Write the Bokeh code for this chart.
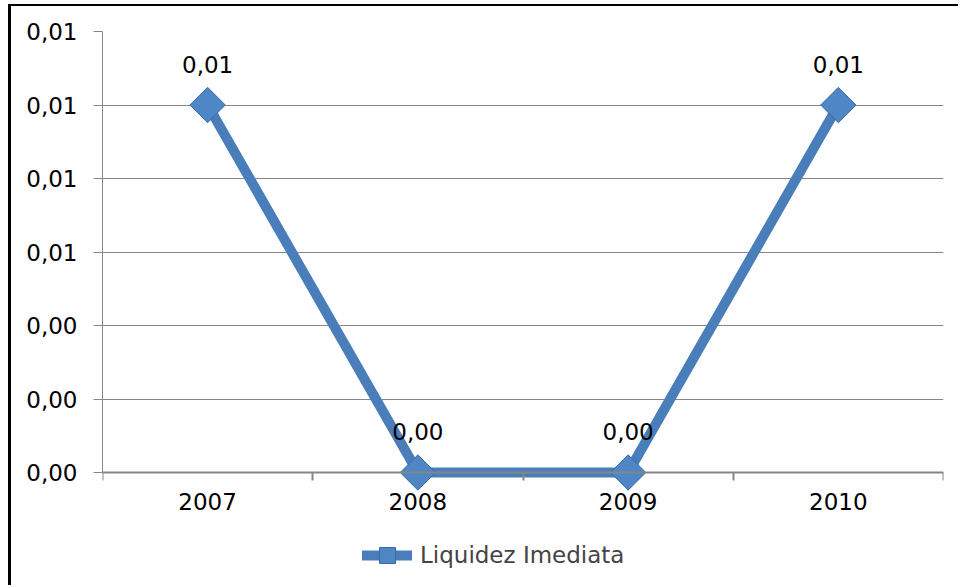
import math
from bokeh.plotting import figure
from bokeh.models import (Range1d, FixedTicker, CustomJSTickFormatter, Legend, LegendItem,
                          ColumnDataSource)
from bokeh.core.properties import value
from bokeh.embed import file_html
from bokeh.resources import INLINE

# ---- data ----
years = ["2007", "2008", "2009", "2010"]
liquidez = [0.010, 0.0, 0.0, 0.010]
y_ticks = [0.0, 0.002, 0.004, 0.006, 0.008, 0.010, 0.012]
series_name = "Liquidez Imediata"

FONT = "DejaVu Sans"
FS = "23px"
GRID = "#868686"
BLUE = "#4a7ebb"
MK_FILL = "#4f86c6"
MK_LINE = "#3a6aa5"

# layout: plot area 441 px tall for the value range, 115 px below it for labels + legend
PLOT_H, BELOW_H = 441, 115
y_lo = y_ticks[0] - (y_ticks[-1] - y_ticks[0]) * BELOW_H / PLOT_H

x_pos = [i + 0.5 for i in range(len(years))]
labels = [f"{v:.2f}".replace(".", ",") for v in liquidez]
src = ColumnDataSource(dict(x=x_pos, y=liquidez, lab=labels))

p = figure(width=950, height=581, output_backend="svg", toolbar_location=None,
           x_range=Range1d(0, len(years)), y_range=Range1d(y_lo, y_ticks[-1]),
           min_border_left=91, min_border_right=18, min_border_top=25, min_border_bottom=0)
p.margin = (4, 0, 0, 8)
p.styles = {"border-left": "3px solid black", "border-top": "2px solid black"}
p.outline_line_color = None
p.background_fill_color = "white"
p.border_fill_color = "white"

# y axis
p.yaxis.ticker = FixedTicker(ticks=y_ticks)
p.yaxis.bounds = (y_ticks[0], y_ticks[-1])
p.yaxis.formatter = CustomJSTickFormatter(code="return tick.toFixed(2).replace('.', ',');")
p.yaxis.axis_line_color = GRID
p.yaxis.major_tick_line_color = GRID
p.yaxis.major_tick_out = 9
p.yaxis.major_tick_in = 0
p.yaxis.minor_tick_line_color = None
p.yaxis.major_label_standoff = 16
p.yaxis.major_label_text_font = FONT
p.yaxis.major_label_text_font_size = FS
p.yaxis.major_label_text_color = "black"

# x axis: labels at category centres, tick marks at category boundaries
p.xaxis.fixed_location = y_ticks[0]
p.xaxis.ticker = FixedTicker(ticks=x_pos, minor_ticks=list(range(len(years) + 1)))
p.xaxis.formatter = CustomJSTickFormatter(args=dict(years=years),
                                          code="return years[Math.floor(tick)];")
p.xaxis.axis_line_color = GRID
p.xaxis.axis_line_width = 2
p.xaxis.major_tick_line_color = None
p.xaxis.major_tick_out = 0
p.xaxis.major_tick_in = 0
p.xaxis.minor_tick_line_color = GRID
p.xaxis.minor_tick_line_width = 2
p.xaxis.minor_tick_out = 8
p.xaxis.minor_tick_in = 0
p.xaxis.major_label_standoff = 12
p.xaxis.major_label_text_font = FONT
p.xaxis.major_label_text_font_size = FS
p.xaxis.major_label_text_color = "black"

p.xgrid.grid_line_color = None
p.ygrid.ticker = FixedTicker(ticks=y_ticks)
p.ygrid.grid_line_color = GRID
p.ygrid.grid_line_width = 1

ln = p.line("x", "y", source=src, line_width=10, line_color=BLUE, line_cap="round")
mk = p.scatter("x", "y", source=src, marker="square", angle=math.pi / 4, size=25,
               fill_color=MK_FILL, line_color=MK_LINE, line_width=1)
p.text("x", "y", text="lab", source=src, y_offset=-41, text_align="center",
       text_baseline="middle", text_font=value(FONT), text_font_size=FS,
       text_color="black")

legend = Legend(items=[LegendItem(label=series_name, renderers=[ln, mk])],
                location=(260, 12), orientation="horizontal",
                glyph_width=50, glyph_height=40, label_standoff=8,
                padding=0, margin=0,
                border_line_color=None, background_fill_alpha=0,
                label_text_font=FONT, label_text_font_size=FS)
p.add_layout(legend)

open("out.html", "w").write(file_html(p, INLINE))
